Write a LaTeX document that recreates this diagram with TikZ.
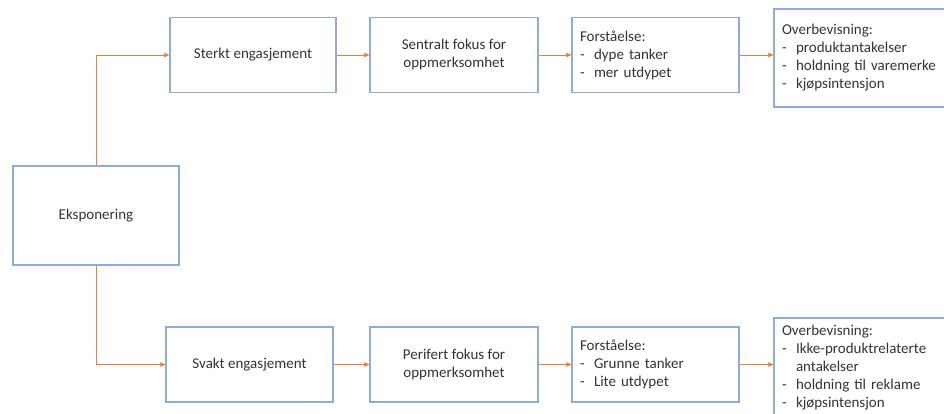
\documentclass[tikz,border=0pt]{standalone}
\usepackage{fontspec}
\setmainfont{Carlito}
\usepackage{tikz}
\usetikzlibrary{arrows.meta}
\definecolor{boxblue}{RGB}{143,170,220}
\definecolor{lineorange}{RGB}{237,125,49}
\newcommand{\bul}{\makebox[14pt][l]{-}}
\begin{document}
\begin{tikzpicture}[x=1pt,y=-1pt]
\tikzstyle{stage}=[draw=boxblue,line width=1.3pt,minimum height=75pt,align=center,text=black!80,font=\fontsize{15}{18}\selectfont];
\tikzstyle{listbox}=[stage,align=left,inner xsep=8pt];
\tikzstyle{flow}=[draw=lineorange,line width=0.8pt,-{Triangle[length=5pt,width=4.5pt]}];
\useasboundingbox (0,0) rectangle (944,414);
\node [stage,minimum width=166pt,minimum height=99pt] (eks) at (96,215.5) {Eksponering};

% high involvement
\node [stage,minimum width=166pt] (sterkt) at (253,55) {Sterkt engasjement};
\node [stage,minimum width=168pt] (sentralt) at (454,55) {Sentralt fokus for\\oppmerksomhet};
\node [listbox,text width=151pt] (forsthoy) at (655.5,55) {Forståelse:\\\bul dype tanker\\\bul mer utdypet};
\node [listbox,text width=160pt,minimum height=98pt] (overhoy) at (862,58) {Overbevisning:\\\bul produktantakelser\\\bul holdning til varemerke\\\bul kjøpsintensjon};
\draw [flow] (eks.north) |- (sterkt.west);
\draw [flow] (sterkt) -- (sentralt);
\draw [flow] (sentralt) -- (forsthoy);
\draw [flow] (forsthoy) -- (overhoy.west |- forsthoy);

% low involvement
\node [stage,minimum width=167pt] (svakt) at (249.5,364.5) {Svakt engasjement};
\node [stage,minimum width=168pt] (perifert) at (454,364.5) {Perifert fokus for\\oppmerksomhet};
\node [listbox,text width=151pt] (forstlav) at (655.5,364.5) {Forståelse:\\\bul Grunne tanker\\\bul Lite utdypet};
\node [listbox,text width=160pt,minimum height=100pt] (overlav) at (862,368) {Overbevisning:\\\bul Ikke-produktrelaterte\\\hspace*{14pt}antakelser\\\bul holdning til reklame\\\bul kjøpsintensjon};
\draw [flow] (eks.south) |- (svakt.west);
\draw [flow] (svakt) -- (perifert);
\draw [flow] (perifert) -- (forstlav);
\draw [flow] (forstlav) -- (overlav.west |- forstlav);
\end{tikzpicture}
\end{document}
